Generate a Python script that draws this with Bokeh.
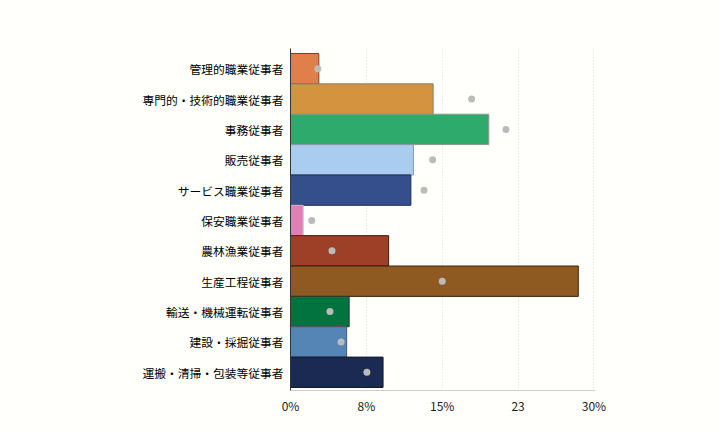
from bokeh.plotting import figure
from bokeh.models import ColumnDataSource, Range1d, FixedTicker
from bokeh.embed import file_html
from bokeh.resources import INLINE

categories = ["管理的職業従事者", "専門的・技術的職業従事者", "事務従事者", "販売従事者",
              "サービス職業従事者", "保安職業従事者", "農林漁業従事者", "生産工程従事者",
              "輸送・機械運転従事者", "建設・採掘従事者", "運搬・清掃・包装等従事者"]
bar_values = [2.8, 14.1, 19.6, 12.15, 11.9, 1.25, 9.7, 28.45, 5.8, 5.55, 9.15]
dot_values = [2.7, 17.9, 21.3, 14.05, 13.2, 2.1, 4.1, 15.0, 3.9, 5.0, 7.55]
fill_colors = ["#e07f4a", "#d4943f", "#2eaa6d", "#a8cdee", "#344f8c", "#e07fb5",
               "#9e3f28", "#8e5a22", "#00733e", "#5585b5", "#1b2a52"]
line_colors = ["#7a4326", "#8a7a6a", "#8a9a8a", "#8a96a6", "#1e2d55", "#d8b8c8",
               "#3e160c", "#3e2410", "#2a3a30", "#4a5a6a", "#101828"]
x_ticks = [0, 7.5, 15, 22.5, 30]
x_tick_labels = ["0%", "8%", "15%", "23", "30%"]

ys = [i + 0.5 for i in range(len(categories))]
src = ColumnDataSource(dict(y=ys, bar=bar_values, dot=dot_values,
                            fill=fill_colors, line=line_colors))

p = figure(width=718, height=432, output_backend="svg", toolbar_location=None,
           x_range=Range1d(0, 30.15), y_range=Range1d(11.1, -0.165),
           min_border_left=290, min_border_right=123, min_border_top=48,
           min_border_bottom=42)
p.background_fill_color = "#fffffb"
p.border_fill_color = "#fffffb"
p.outline_line_color = None

p.hbar(y="y", left=0, right="bar", height=1.0, fill_color="fill", line_color="line",
       line_width=1, source=src)
p.scatter(x="dot", y="y", size=7, fill_color="#bbbbbb", line_color=None, source=src)

p.ygrid.grid_line_color = None
p.xgrid.ticker = FixedTicker(ticks=x_ticks)
p.xgrid.grid_line_color = "#dddddd"
p.xgrid.grid_line_dash = "1 2"

p.xaxis.ticker = FixedTicker(ticks=x_ticks)
p.xaxis.major_label_overrides = dict(zip(x_ticks, x_tick_labels))
p.xaxis.axis_line_color = "#cccccc"
p.xaxis.major_tick_line_color = None
p.xaxis.minor_tick_line_color = None
p.xaxis.major_tick_out = 0
p.xaxis.minor_tick_out = 0
p.xaxis.major_label_text_font = "Noto Sans CJK JP"
p.xaxis.major_label_text_font_size = "12px"
p.xaxis.major_label_text_color = "#222222"
p.xaxis.major_label_standoff = 6

p.yaxis.ticker = FixedTicker(ticks=ys)
p.yaxis.major_label_overrides = dict(zip(ys, categories))
p.yaxis.axis_line_color = "#333333"
p.yaxis.major_tick_line_color = None
p.yaxis.minor_tick_line_color = None
p.yaxis.major_tick_out = 0
p.yaxis.minor_tick_out = 0
p.yaxis.major_label_text_font = "Noto Sans CJK JP"
p.yaxis.major_label_text_font_size = "11.75px"
p.yaxis.major_label_text_color = "#000000"
p.yaxis.major_label_standoff = 7

open("out.html", "w").write(file_html(p, INLINE))
